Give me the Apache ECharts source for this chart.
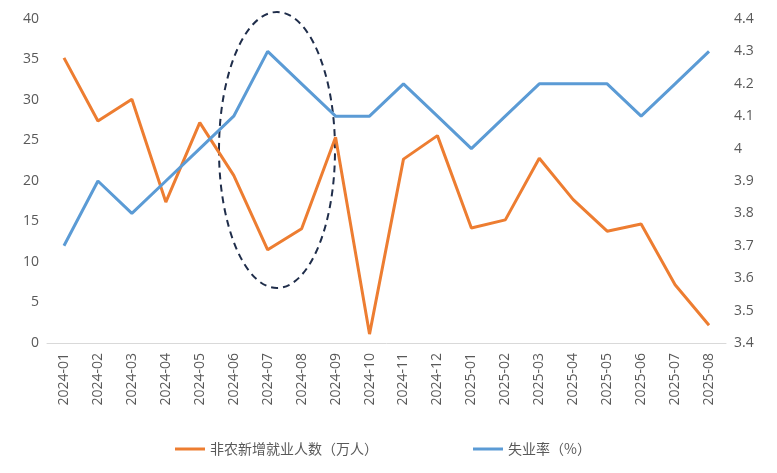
<!DOCTYPE html>
<html><head><meta charset="utf-8">
<script src="https://cdn.jsdelivr.net/npm/echarts@6/dist/echarts.min.js"></script>
<style>html,body{margin:0;padding:0;background:#fff}#c{width:777px;height:473px}</style>
</head><body><div id="c"></div>
<script>
const categories=['2024-01','2024-02','2024-03','2024-04','2024-05','2024-06','2024-07','2024-08','2024-09','2024-10','2024-11','2024-12','2025-01','2025-02','2025-03','2025-04','2025-05','2025-06','2025-07','2025-08'];
const payrolls=[35.2,27.4,30.1,17.4,27.2,20.7,11.5,14.1,25.4,1.1,22.7,25.6,14.2,15.2,22.8,17.7,13.8,14.7,7.2,2.2];
const unemployment=[3.7,3.9,3.8,3.9,4.0,4.1,4.3,4.2,4.1,4.1,4.2,4.1,4.0,4.1,4.2,4.2,4.2,4.1,4.2,4.3];
const chart=echarts.init(document.getElementById('c'));
const lab={color:'#595959',fontSize:14,fontFamily:'Open Sans'};
chart.setOption({
 animation:false,
 grid:{left:47,right:51,top:19,bottom:130},
 legend:{left:170,bottom:12,itemWidth:30,itemGap:95,textStyle:{color:'#595959',fontSize:14,fontFamily:'Noto Sans CJK SC'},
   data:[{name:'非农新增就业人数（万人）',icon:'path://M0,0H10V1H0Z'},{name:'失业率（%）',icon:'path://M0,0H10V1H0Z'}]},
 xAxis:{type:'category',data:categories,boundaryGap:true,axisTick:{show:false},axisLine:{lineStyle:{color:'#d9d9d9'}},
   axisLabel:Object.assign({rotate:90,interval:0,margin:10},lab)},
 yAxis:[{type:'value',min:0,max:40,interval:5,splitLine:{show:false},axisLabel:lab},
   {type:'value',min:3.4,max:4.4,interval:0.1,splitLine:{show:false},axisLabel:Object.assign({formatter:v=>String(+v.toFixed(1))},lab)}],
 series:[
  {name:'非农新增就业人数（万人）',type:'line',data:payrolls,symbol:'none',lineStyle:{width:3,color:'#ED7D31'},itemStyle:{color:'#ED7D31'}},
  {name:'失业率（%）',type:'line',yAxisIndex:1,data:unemployment,symbol:'none',lineStyle:{width:3,color:'#5B9BD5'},itemStyle:{color:'#5B9BD5'}}
 ],
 graphic:[{type:'ellipse',shape:{cx:277,cy:150,rx:58,ry:138},style:{fill:'none',stroke:'#1F2D4A',lineWidth:2,lineDash:[7,5]}}]
});
</script></body></html>
